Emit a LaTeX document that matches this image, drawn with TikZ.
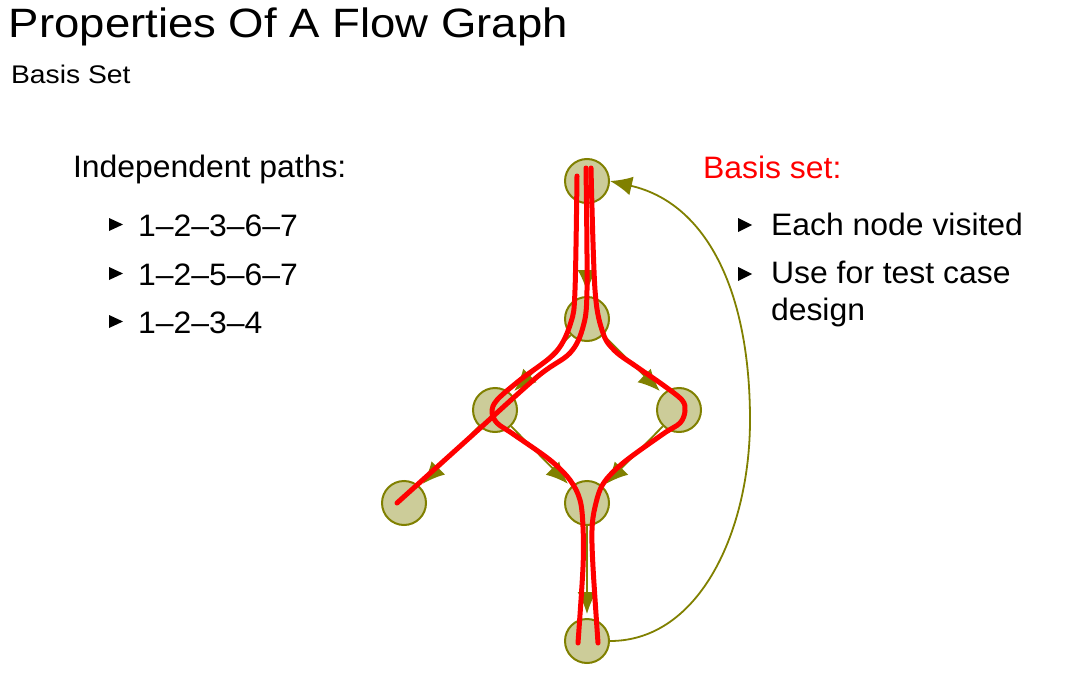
\documentclass[tikz,border=0pt]{standalone}
\usepackage{fontspec}
\setmainfont{Liberation Sans}
\newfontfamily\headfont[FakeStretch=1.11,Ligatures=TeX]{Liberation Sans}
\newfontfamily\bodyfont[FakeStretch=1.03,Ligatures=TeX]{Liberation Sans}
\usetikzlibrary{arrows.meta}
\definecolor{olivedark}{RGB}{128,128,0}
\definecolor{olivefill}{RGB}{204,204,153}
\begin{document}
\begin{tikzpicture}[x=1pt,y=-1pt,
  vertex/.style={circle,draw=olivedark,fill=olivefill,line width=2pt,minimum size=44pt,inner sep=0pt},
  flow/.style={draw=olivedark,line width=1.8pt,-{Latex[length=22pt,width=19pt]},shorten >=4pt},
  pathhl/.style={draw=red,line width=5pt,line cap=round,line join=round},
  txt/.style={anchor=base west,inner sep=0pt,outer sep=0pt},
  body/.style={txt,font=\bodyfont\fontsize{31}{37}\selectfont},
  bullet/.style={fill=black}]
\useasboundingbox (0,0) rectangle (1073,690);

% headings
\node[txt,font=\headfont\fontsize{41}{46}\selectfont] (title) at (9,38) {Properties Of A Flow Graph};
\node[txt,font=\headfont\fontsize{25.5}{30}\selectfont] (sub) at (11,84) {Basis Set};

% left column
\node[body] (indep) at (73,177) {Independent paths:};
\foreach \yy/\lab/\nm in {236/{1--2--3--6--7}/pa,285/{1--2--5--6--7}/pb,333/{1--2--3--4}/pc}{
  \fill[bullet] (109,\yy-18) -- (123,\yy-11.5) -- (109,\yy-5) -- cycle;
  \node[body] (\nm) at (138,\yy) {\lab};
}

% right column
\node[body,text=red] (basis) at (703,178) {Basis set:};
\fill[bullet] (738,218) -- (752,225) -- (738,232) -- cycle;
\node[body] (each) at (771,235) {Each node visited};
\fill[bullet] (738,267) -- (752,274) -- (738,281) -- cycle;
\node[body] (use) at (771,283) {Use for test case};
\node[body] (design) at (771,320) {design};

% flow graph nodes
\node[vertex] (n1) at (587,181) {};
\node[vertex] (n2) at (587,319) {};
\node[vertex] (n3) at (495,410) {};
\node[vertex] (n5) at (679,410) {};
\node[vertex] (n4) at (404,503) {};
\node[vertex] (n6) at (587,503) {};
\node[vertex] (n7) at (587,641) {};

% flow graph edges
\draw[flow] (n1) -- (n2);
\draw[flow] (n2) -- (n3);
\draw[flow] (n2) -- (n5);
\draw[flow] (n3) -- (n4);
\draw[flow] (n3) -- (n6);
\draw[flow] (n5) -- (n6);
\draw[flow] (n6) -- (n7);
\coordinate (loopR) at (750,420);
\draw[flow,shorten >=0pt] (n7.east) .. controls +(90,0) and +(0,110) .. (loopR)
  .. controls +(0,-130) and +(96,22) .. (n1.east);

% highlighted independent paths
\draw[pathhl] plot[smooth,tension=0.55] coordinates {(577,176) (575,290) (571,322) (556,352) (520,380) (497,400) (492,412) (497,423) (513,434) (550,460) (570,480) (580,500) (583,527) (583,567) (578,643)};
\draw[pathhl] plot[smooth,tension=0.55] coordinates {(586,168) (587,290) (583,327) (570,353) (537,377) (467,440) (397,503)};
\draw[pathhl] plot[smooth,tension=0.55] coordinates {(591,168) (595,290) (603,333) (615,351) (637,367) (663,385) (682,400) (685,411) (680,423) (663,434) (623,463) (603,484) (595,507) (592,530) (593,567) (598,643)};
\end{tikzpicture}
\end{document}
